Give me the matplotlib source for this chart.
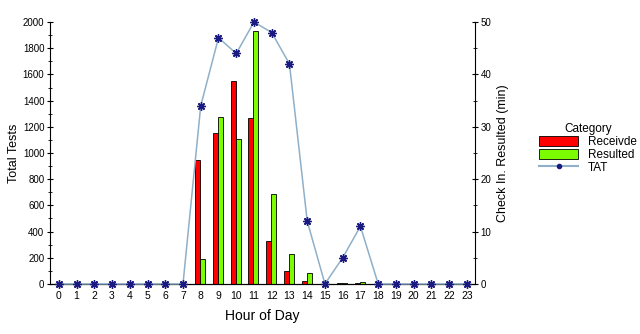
import matplotlib.pyplot as plt
import numpy as np
from matplotlib.lines import Line2D
from matplotlib.patches import Patch

hours = list(range(24))
received = [0, 0, 0, 0, 0, 0, 0, 0, 950, 1150, 1550, 1265, 325, 100, 25, 0, 5, 10, 0, 0, 0, 0, 0, 0]
resulted = [0, 0, 0, 0, 0, 0, 0, 0, 190, 1275, 1110, 1930, 690, 230, 80, 0, 5, 15, 0, 0, 0, 0, 0, 0]
tat = [0, 0, 0, 0, 0, 0, 0, 0, 34, 47, 44, 50, 48, 42, 12, 0, 5, 11, 0, 0, 0, 0, 0, 0]

plt.rcParams['font.family'] = ['Liberation Sans', 'DejaVu Sans']

fig = plt.figure(figsize=(6.4, 3.34), dpi=100)
ax = fig.add_axes([0.078, 0.150, 0.664, 0.784])
x = np.array(hours)
w = 0.28
ax.bar(x - w / 2 - 0.03, received, width=w, color='#ff0000', edgecolor='black', linewidth=0.6, zorder=2)
ax.bar(x + w / 2 - 0.03, resulted, width=w, color='#7cfc00', edgecolor='black', linewidth=0.6, zorder=2)
ax.set_xlim(-0.5, 23.45)
ax.set_ylim(0, 2000)
ax.set_xticks(hours)
ax.set_yticks(range(0, 2001, 200))
ax.set_yticks(range(0, 2001, 100), minor=True)
ax.tick_params(axis='x', length=0, labelsize=7.5, pad=5)
ax.tick_params(axis='y', which='major', length=4, labelsize=7, pad=2, direction='inout')
ax.tick_params(axis='y', which='minor', length=3, direction='inout')
ax.spines['top'].set_visible(False)
ax.spines['right'].set_visible(False)
ax.set_xlabel('Hour of Day', fontsize=10, labelpad=6)
ax.set_ylabel('Total Tests', fontsize=9)
ax.yaxis.set_label_coords(-0.07, 0.5)

ax2 = ax.twinx()
ax2.plot(x, tat, color='#8fb0c8', linewidth=1.1, marker=(8, 2, 0), markersize=6,
         markeredgecolor='#1a1a80', markeredgewidth=1.0, zorder=3, clip_on=False)
ax2.set_ylim(0, 50)
ax2.set_yticks(range(0, 51, 10))
ax2.set_yticks(range(0, 51, 5), minor=True)
ax2.tick_params(axis='y', which='major', length=4, labelsize=7, pad=2, direction='inout')
ax2.tick_params(axis='y', which='minor', length=3, direction='inout')
ax2.spines['top'].set_visible(False)
ax2.spines['left'].set_visible(False)
ax2.set_ylabel('Check In. Resulted (min)', fontsize=9)

handles = [Patch(facecolor='#ff0000', edgecolor='black', linewidth=0.6),
           Patch(facecolor='#7cfc00', edgecolor='black', linewidth=0.6),
           Line2D([], [], color='#8fb0c8', marker='o', markersize=3,
                  markerfacecolor='#1a1a80', markeredgecolor='#1a1a80')]
fig.legend(handles, ['Receivde', 'Resulted', 'TAT'], title='Category',
           loc='upper left', bbox_to_anchor=(0.835, 0.645), frameon=False,
           fontsize=8.5, title_fontsize=8.5, handlelength=3.3, handleheight=1.0,
           labelspacing=0.05, borderaxespad=0, handletextpad=0.8)

fig.savefig('out.png', dpi=100)
